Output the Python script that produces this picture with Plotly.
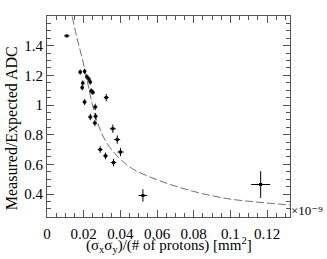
import plotly.graph_objects as go

# measured points
x_vals = [0.0108, 0.0181, 0.0205, 0.0217, 0.0228, 0.0236, 0.0195, 0.0192, 0.0241, 0.0250,
          0.0205, 0.0263, 0.0323, 0.0236, 0.0265, 0.0261, 0.0359, 0.0383, 0.0401,
          0.0290, 0.0319, 0.0363, 0.0523, 0.1165]
y_vals = [1.466, 1.222, 1.227, 1.190, 1.175, 1.155, 1.148, 1.117, 1.095, 1.085,
          1.020, 0.987, 1.050, 0.919, 0.924, 0.879, 0.840, 0.767, 0.683,
          0.700, 0.657, 0.612, 0.390, 0.464]
x_err = [0.0015, 0.0010, 0.0010, 0.0010, 0.0010, 0.0010, 0.0010, 0.0010, 0.0011, 0.0011,
         0.0011, 0.0012, 0.0013, 0.0012, 0.0012, 0.0012, 0.0016, 0.0016, 0.0017,
         0.0013, 0.0014, 0.0015, 0.0024, 0.0052]
y_err = [0.005, 0.018, 0.018, 0.018, 0.018, 0.018, 0.018, 0.018, 0.018, 0.018,
         0.020, 0.022, 0.025, 0.022, 0.022, 0.022, 0.028, 0.028, 0.028,
         0.022, 0.022, 0.025, 0.042, 0.090]

# fit curve
fit_x = [0.0137, 0.0165, 0.0195, 0.0225, 0.0250, 0.0286, 0.0341, 0.0450, 0.0614,
         0.0795, 0.0977, 0.1150, 0.1325]
fit_y = [1.597, 1.445, 1.300, 1.130, 0.990, 0.845, 0.717, 0.583, 0.490,
         0.419, 0.370, 0.345, 0.326]

x_range = [0, 0.1325]
y_range = [0.245, 1.6]
exponent_label = "×10⁻⁹"
x_title = "(σ<sub>x</sub>σ<sub>y</sub>)/(# of protons) [mm<sup>2</sup>]"
y_title = "Measured/Expected ADC"

serif = "Liberation Serif, DejaVu Serif, serif"
axc = "#555555"

fig = go.Figure()
fig.add_trace(go.Scatter(x=fit_x, y=fit_y, mode="lines", line_shape="spline",
                         line=dict(color="#707070", width=1, dash="8px,3px"),
                         hoverinfo="skip"))
fig.add_trace(go.Scatter(x=x_vals, y=y_vals, mode="markers",
                         marker=dict(color="black", size=3, symbol="square"),
                         error_x=dict(type="data", array=x_err, color="black", thickness=1, width=0),
                         error_y=dict(type="data", array=y_err, color="black", thickness=1, width=0)))

fig.update_layout(
    width=327, height=259,
    margin=dict(l=47, r=36.5, t=16, b=42, autoexpand=False),
    paper_bgcolor="white", plot_bgcolor="white",
    showlegend=False,
    font=dict(family=serif, size=15, color="black"),
    xaxis=dict(range=x_range, tickvals=[0, 0.02, 0.04, 0.06, 0.08, 0.1, 0.12],
               ticktext=["0", "0.02", "0.04", "0.06", "0.08", "0.1", "0.12"],
               ticks="inside", ticklen=7, tickcolor=axc, tickwidth=1,
               minor=dict(dtick=0.005, ticks="inside", ticklen=4, tickcolor=axc),
               showline=True, linecolor=axc, linewidth=1, mirror="ticks",
               showgrid=False, zeroline=False, ticklabelstandoff=3, automargin=False,
               tickfont=dict(family=serif, size=15)),
    yaxis=dict(range=y_range, tickvals=[0.4, 0.6, 0.8, 1.0, 1.2, 1.4],
               ticktext=["0.4", "0.6", "0.8", "1", "1.2", "1.4"],
               ticks="inside", ticklen=7, tickcolor=axc, tickwidth=1,
               minor=dict(dtick=0.05, tick0=0, ticks="inside", ticklen=4, tickcolor=axc),
               showline=True, linecolor=axc, linewidth=1, mirror="ticks",
               showgrid=False, zeroline=False, automargin=False,
               tickfont=dict(family=serif, size=15)),
)
fig.add_annotation(text=y_title, xref="paper", yref="paper",
                   x=-0.143, y=0.443, xanchor="center", yanchor="middle", textangle=-90,
                   showarrow=False, font=dict(family=serif, size=16, color="black"))
fig.add_annotation(text=x_title, xref="paper", yref="paper",
                   x=0.5, y=-0.139, xanchor="center", yanchor="middle",
                   showarrow=False, font=dict(family=serif, size=15, color="black"))
fig.add_annotation(text=exponent_label, xref="paper", yref="paper",
                   x=1.0, y=0.03, xanchor="left", yanchor="middle", xshift=0,
                   showarrow=False, borderpad=0,
                   font=dict(family=serif, size=13, color="black"))

fig.write_html("out.html", config={"displayModeBar": False},
               post_script="document.body.style.margin='0';document.body.style.padding='0';")
